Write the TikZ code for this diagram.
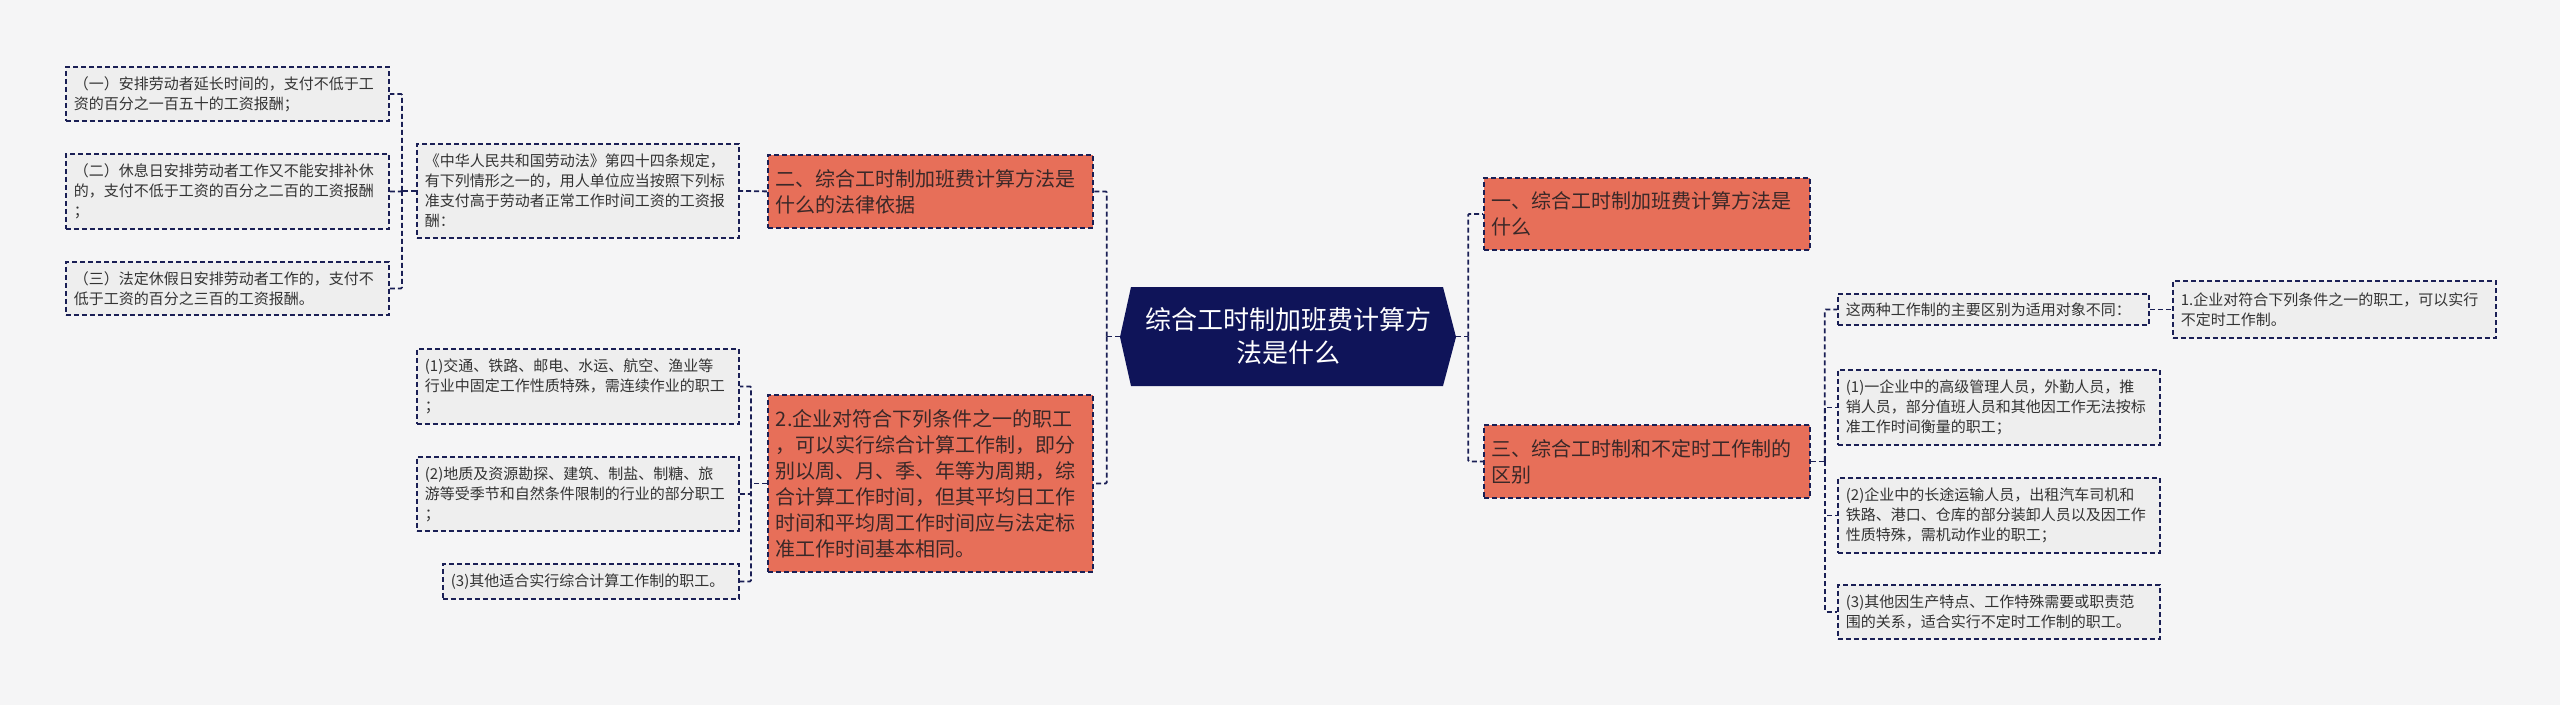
\documentclass[tikz,border=0pt]{standalone}
\usepackage{fontspec}
\setmainfont{Noto Sans CJK SC}
\definecolor{bg}{HTML}{F5F5F6}
\definecolor{navy}{HTML}{1A1F55}
\definecolor{cnavy}{HTML}{0F1459}
\definecolor{redn}{HTML}{E76F59}
\definecolor{leaff}{HTML}{EEEEEE}
\definecolor{ltext}{HTML}{333333}
\definecolor{rtext}{HTML}{3A2828}
\tikzset{
 box/.style={draw=navy, dash pattern=on 5pt off 3pt, line width=1.8pt, rectangle, anchor=north west, inner xsep=8pt, inner ysep=0pt, align=left},
 leaf/.style={box, fill=leaff, text=ltext, font=\fontsize{15}{20}\selectfont},
 rednode/.style={box, fill=redn, text=rtext, font=\fontsize{20}{26}\selectfont},
 conn/.style={draw=navy, line width=1.8pt, dash pattern=on 5pt off 3pt, rounded corners=1pt},
}
\begin{document}
\begin{tikzpicture}[x=1pt,y=-1pt]
\useasboundingbox (0,0) rectangle (2560,705);
\fill[bg] (0,0) rectangle (2560,705);

% left leaves
\node[leaf, text width=307pt, minimum height=54pt] (l1) at (65,66) {（一）安排劳动者延长时间的，支付不低于工\\资的百分之一百五十的工资报酬；};
\node[leaf, text width=307pt, minimum height=75pt] (l2) at (65,153) {（二）休息日安排劳动者工作又不能安排补休\\的，支付不低于工资的百分之二百的工资报酬\\；};
\node[leaf, text width=307pt, minimum height=53pt] (l3) at (65,261) {（三）法定休假日安排劳动者工作的，支付不\\低于工资的百分之三百的工资报酬。};
\node[leaf, text width=306pt, minimum height=94pt] (law) at (416,143) {《中华人民共和国劳动法》第四十四条规定，\\有下列情形之一的，用人单位应当按照下列标\\准支付高于劳动者正常工作时间工资的工资报\\酬：};
\node[rednode, text width=309pt, minimum height=73pt] (n2) at (767,154) {二、综合工时制加班费计算方法是\\什么的法律依据};

\node[rednode, text width=309pt, minimum height=177pt] (red2) at (767,394) {2.企业对符合下列条件之一的职工\\，可以实行综合计算工作制，即分\\别以周、月、季、年等为周期，综\\合计算工作时间，但其平均日工作\\时间和平均周工作时间应与法定标\\准工作时间基本相同。};
\node[leaf, text width=306pt, minimum height=75pt] (la) at (416,348) {(1)交通、铁路、邮电、水运、航空、渔业等\\行业中固定工作性质特殊，需连续作业的职工\\；};
\node[leaf, text width=306pt, minimum height=74pt] (lb) at (416,456) {(2)地质及资源勘探、建筑、制盐、制糖、旅\\游等受季节和自然条件限制的行业的部分职工\\；};
\node[leaf, text width=280pt, minimum height=35pt] (lc) at (442,563) {(3)其他适合实行综合计算工作制的职工。};

% center
\fill[cnavy] (1131,287) -- (1443,287) -- (1456,337) -- (1443,386) -- (1131,386) -- (1120,337) -- cycle;
\node[text=white, font=\fontsize{26}{33}\selectfont, align=center, minimum width=336pt, minimum height=99pt, inner sep=0pt] (c) at (1288,336.5) {综合工时制加班费计算方\\法是什么};

% right
\node[rednode, text width=310pt, minimum height=72pt] (n1) at (1483,177) {一、综合工时制加班费计算方法是\\什么};
\node[rednode, text width=310pt, minimum height=73pt] (n3) at (1483,424) {三、综合工时制和不定时工作制的\\区别};
\node[leaf, text width=295pt, minimum height=31pt] (zl) at (1837,293) {这两种工作制的主要区别为适用对象不同：};
\node[leaf, text width=307pt, minimum height=57pt] (z1) at (2172,280) {1.企业对符合下列条件之一的职工，可以实行\\不定时工作制。};
\node[leaf, text width=306pt, minimum height=75pt] (r1) at (1837,369) {(1)一企业中的高级管理人员，外勤人员，推\\销人员，部分值班人员和其他因工作无法按标\\准工作时间衡量的职工；};
\node[leaf, text width=306pt, minimum height=75pt] (r2) at (1837,477) {(2)企业中的长途运输人员，出租汽车司机和\\铁路、港口、仓库的部分装卸人员以及因工作\\性质特殊，需机动作业的职工；};
\node[leaf, text width=306pt, minimum height=54pt] (r3) at (1837,584) {(3)其他因生产特点、工作特殊需要或职责范\\围的关系，适合实行不定时工作制的职工。};

% connectors
\coordinate (bL) at ([xshift=-14pt]law.west);
\draw[conn] (law.west) -- (bL);
\draw[conn] (bL) |- (l1.east);
\draw[conn] (bL) |- (l2.east);
\draw[conn] (bL) |- (l3.east);
\draw[conn] (n2.west) -- (law.east);

\coordinate (b2) at ([xshift=-16pt]red2.west);
\draw[conn] (red2.west) -- (b2);
\draw[conn] (b2) |- (la.east);
\draw[conn] (b2) |- (lb.east);
\draw[conn] (b2) |- (lc.east);

\coordinate (bC) at ([xshift=-13pt]c.west);
\draw[conn] (c.west) -- (bC);
\draw[conn] (bC) |- (n2.east);
\draw[conn] (bC) |- (red2.east);

\coordinate (bR) at ([xshift=12pt]c.east);
\draw[conn] (c.east) -- (bR);
\draw[conn] (bR) |- (n1.west);
\draw[conn] (bR) |- (n3.west);

\coordinate (b3) at ([xshift=14pt]n3.east);
\draw[conn] (n3.east) -- (b3);
\draw[conn] (b3) |- (zl.west);
\draw[conn] (b3) |- (r1.west);
\draw[conn] (b3) |- (r2.west);
\draw[conn] (b3) |- (r3.west);
\draw[conn] (zl.east) -- (z1.west);
\end{tikzpicture}
\end{document}
